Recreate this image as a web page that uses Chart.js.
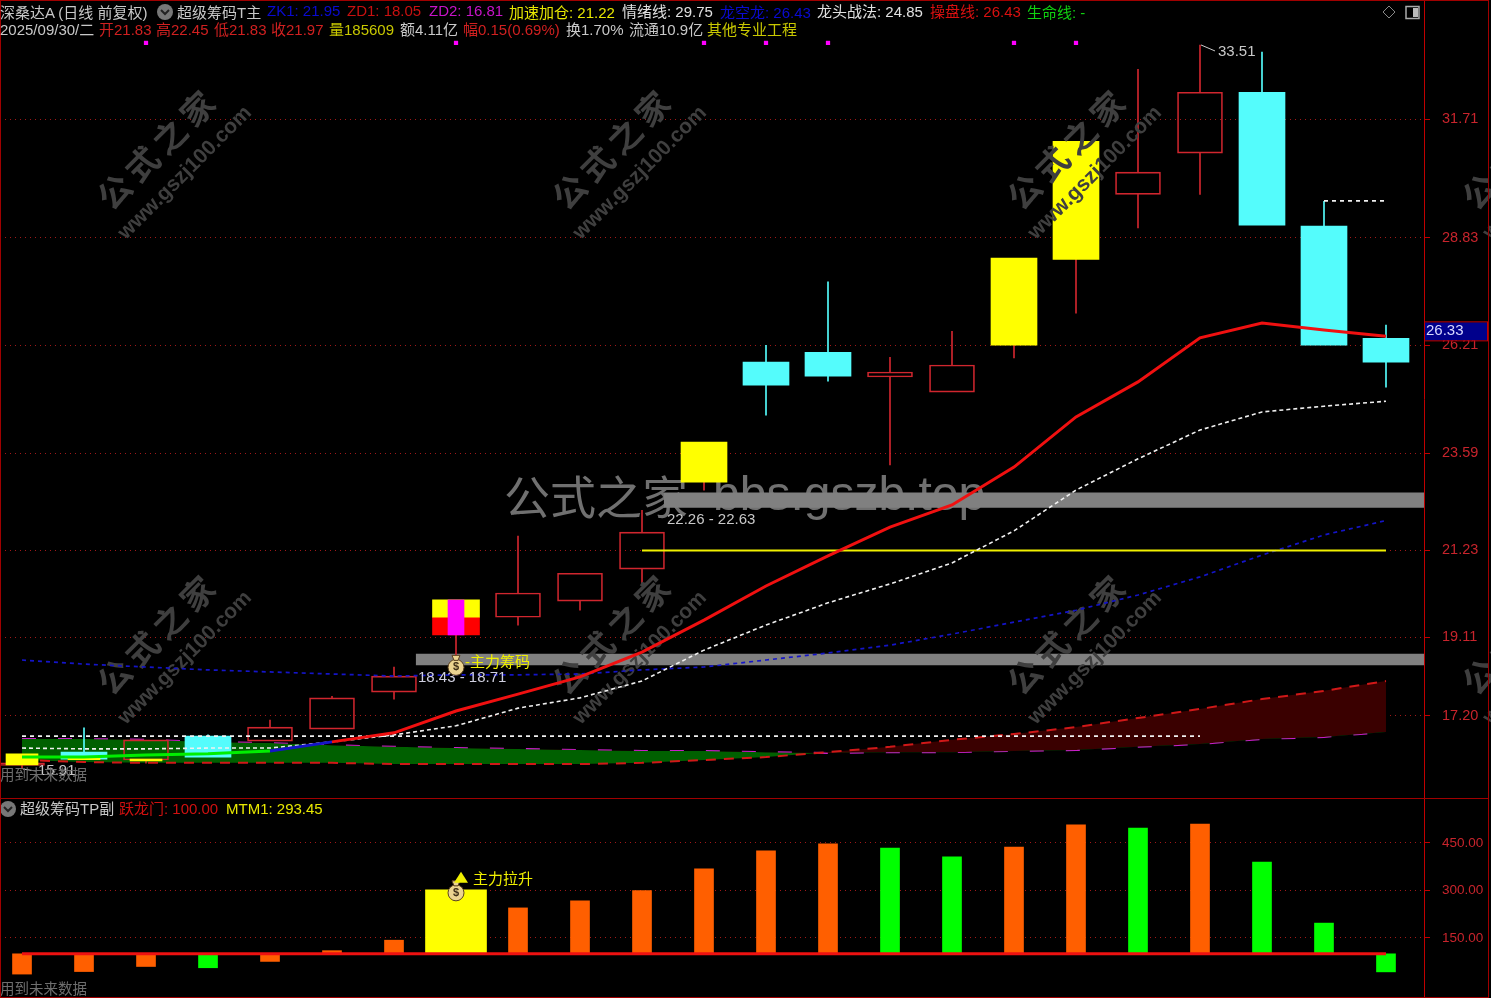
<!DOCTYPE html>
<html><head><meta charset="utf-8">
<script src="https://cdn.jsdelivr.net/npm/chart.js@4/dist/chart.umd.js"></script>
<style>
html,body{margin:0;padding:0;background:#000;overflow:hidden;width:1491px;height:998px}
canvas{position:absolute;left:0;display:block}
#frame{position:absolute;left:0;top:0;width:1487px;height:996px;border:1px solid #a00000;pointer-events:none}
#split{position:absolute;left:0;top:798px;width:1488px;height:1px;background:#a00000}
.t{position:absolute;white-space:nowrap;font:15px "Liberation Sans","Noto Sans CJK SC",sans-serif;line-height:16px}
</style></head><body>
<canvas id="main" width="1491" height="798" style="top:0"></canvas>
<canvas id="sub" width="1491" height="200" style="top:798px"></canvas>
<div id="frame"></div><div id="split"></div>
<div id="texts"></div>
<script>
// ---------- data ----------
const candleStyle=['hollow','cyan','hollow','cyan','hollow','hollow','hollow','block','hollow','hollow','hollow','yellow','cyan','cyan','hollow','hollow','yellow','yellow','hollow','hollow','cyan','cyan','cyan'];
const bodyTop =[16.06,16.32,16.62,16.71,16.93,17.64,18.17,20.02,20.19,20.67,21.67,23.86,25.80,26.04,25.56,25.73,28.33,31.17,30.42,32.36,32.36,29.11,26.38];
const bodyBot =[16.00,16.15,16.13,16.20,16.59,16.88,17.78,19.17,19.60,19.99,20.77,22.88,25.24,25.46,25.44,25.07,26.21,28.30,29.88,30.88,29.13,26.21,25.80];
const highs   =[16.06,16.91,16.62,16.74,17.10,17.68,18.39,20.02,21.57,20.67,22.20,23.86,26.21,27.75,25.92,26.55,28.33,31.17,32.92,33.51,33.34,29.71,26.70];
const lows    =[15.91,16.15,16.05,16.20,16.59,16.88,17.61,18.68,19.41,19.77,20.38,22.69,24.51,25.34,23.30,25.07,25.90,26.99,29.06,29.88,29.13,26.21,25.19];
const blockMid=19.60;
const stickIdx=[0,1,2];
const stickTop=[16.28,16.17,16.15];
const stickBot=[16.01,16.14,16.11];
const controlLine=[16.20,16.20,16.25,16.28,16.35,16.57,16.79,17.32,17.73,18.15,18.75,19.53,20.36,21.09,21.79,22.33,23.25,24.47,25.32,26.39,26.75,26.58,26.43];
const moodLine=[16.42,16.40,16.40,16.42,16.42,16.57,16.74,16.96,17.39,17.64,18.05,18.80,19.41,19.95,20.41,20.92,21.70,22.69,23.45,24.15,24.59,24.73,24.85];
const zk1Line=[18.56,18.46,18.39,18.32,18.27,18.22,18.17,18.20,18.20,18.22,18.32,18.39,18.56,18.73,18.92,19.19,19.48,19.77,20.14,20.58,21.11,21.60,21.95];
const zd2Line=[16.64,16.64,16.62,16.57,16.54,16.49,16.45,16.42,16.40,16.37,16.35,16.35,16.32,16.30,16.32,16.32,16.35,16.37,16.45,16.52,16.64,16.69,16.81];
const zd1Line=[16.13,16.08,16.06,16.06,16.06,16.06,16.03,16.03,16.03,16.03,16.06,16.13,16.20,16.32,16.45,16.62,16.76,16.93,17.15,17.37,17.61,17.81,18.05];
const signalIdx=[2,7,11,12,13,16,17];
const signalLevel=33.56;
const zoneLow=[18.43,22.26], zoneHigh=[18.71,22.63], zoneStart=[6.35,10.35];
const lvl1=16.71, lvl1Span=[0,19];
const lvl2=29.72, lvl2Span=[21,22];
const lvl3=21.22, lvl3Span=[10,22];
const lastPrice=26.33;
const priceTicks=[17.20,19.11,21.23,23.59,26.21,28.83,31.71];
const subTicks=[150,300,450];
const gate=100;
const mtm=[36,44,60,56,76,110,143,302,245,267,300,368,425,447,434,406,437,507,497,510,390,197,43];
const mtmStyle=['o','o','o','g','o','o','o','y','o','o','o','o','o','o','g','g','o','o','g','o','g','g','g'];

// ---------- axis ranges ----------
const xMin=-0.355, xMax=22.613;
const priceMax=34.603, priceMin=15.206, subMax=592, subMin=-39.5;
const RED='#d0262e', CYAN='#54fcfc', YEL='#ffff00';
const xs=bodyTop.map((_,i)=>i);
const ser=(arr)=>arr.map((y,x)=>({x,y}));

function line(label,data,color,width,dash,order,extra){
  return Object.assign({type:'line',label,data,borderColor:color,backgroundColor:color,borderWidth:width,borderDash:dash,pointRadius:0,tension:0,fill:false,order},extra||{});
}
function bars(label,data,thick,bg,border,order,extra){
  return Object.assign({type:'bar',label,data,barThickness:thick,grouped:false,borderSkipped:false,backgroundColor:bg,borderColor:border||bg,borderWidth:border?1:0,order},extra||{});
}
const wickColor=i=>candleStyle[i]==='cyan'?CYAN:RED;
const isSolid=i=>candleStyle[i]==='cyan'||candleStyle[i]==='yellow';
const bodyColor=i=>candleStyle[i]==='cyan'?CYAN:candleStyle[i]==='yellow'?YEL:'rgba(0,0,0,0)';

const zoneSets=[];
zoneLow.forEach((lo,k)=>{
  const span=[zoneStart[k],xMax];
  zoneSets.push(line('zoneLow'+k,span.map(x=>({x,y:lo})),'rgba(0,0,0,0)',0,[],92));
  zoneSets.push(line('zoneHigh'+k,span.map(x=>({x,y:zoneHigh[k]})),'rgba(0,0,0,0)',0,[],91,{fill:{target:'-1',above:'#808080',below:'#808080'}}));
});

const mainSets=[
  ...zoneSets,
  line('ZD2',ser(zd2Line),'#c81ec8',2,[14,22],82),
  line('ZD1',ser(zd1Line),'#d01818',2,[10,8],81,{fill:{target:'-1',above:'#3a0000',below:'#006000'}}),
  bars('wickUp',xs.filter(i=>highs[i]>bodyTop[i]).map(i=>({x:i,y:[bodyTop[i],highs[i]]})),1,c=>wickColor(c.raw.x),null,60),
  bars('wickDown',xs.filter(i=>lows[i]<bodyBot[i]).map(i=>({x:i,y:[lows[i],bodyBot[i]]})),1,c=>wickColor(c.raw.x),null,60),
  bars('bodySolid',xs.filter(isSolid).map(i=>({x:i,y:[bodyBot[i],bodyTop[i]]})),46,c=>bodyColor(c.raw.x),null,58),
  bars('bodyHollow',xs.filter(i=>candleStyle[i]==='hollow').map(i=>({x:i,y:[bodyBot[i],bodyTop[i]]})),45,'rgba(0,0,0,0)',RED,57),
  bars('blockTop',xs.filter(i=>candleStyle[i]==='block').map(i=>({x:i,y:[blockMid,bodyTop[i]]})),47,YEL,null,56),
  bars('blockBottom',xs.filter(i=>candleStyle[i]==='block').map(i=>({x:i,y:[bodyBot[i],blockMid]})),47,'#ff0000',null,56),
  bars('blockCore',xs.filter(i=>candleStyle[i]==='block').map(i=>({x:i,y:[bodyBot[i],bodyTop[i]]})),16,'#ff00ff',null,55),
  bars('stick',stickIdx.map((x,k)=>({x,y:[stickBot[k],stickTop[k]]})),32,YEL,null,54),
  line('ZK1',ser(zk1Line),'#1414c8',1.7,[4,4],30),
  line('lvl1',lvl1Span.map(x=>({x,y:lvl1})),'#f0f0f0',1.7,[4,4],29),
  line('lvl2',lvl2Span.map(x=>({x,y:lvl2})),'#f0f0f0',1.7,[4,4],29),
  line('lvl3',lvl3Span.map(x=>({x,y:lvl3})),'#f0f000',2,[],28),
  line('mood',ser(moodLine),'#f0f0f0',1.6,[4,3],27),
  line('control',ser(controlLine),'#f01010',3,[],26,{segment:{borderColor:c=>c.p0DataIndex<4?'#00ee00':c.p0DataIndex===4?'#1414c8':'#f01010'}}),
  {type:'scatter',label:'signal',data:signalIdx.map(x=>({x,y:signalLevel})),pointStyle:'rect',pointRadius:3,backgroundColor:'#ff00ff',borderWidth:0,showLine:false,order:20}
];

function drawBag(ctx,x,y){
  ctx.save();
  ctx.fillStyle='#ecd490';ctx.strokeStyle='#5a4020';ctx.lineWidth=1;
  ctx.beginPath();ctx.arc(x,y+2,8,0,Math.PI*2);ctx.fill();ctx.stroke();
  ctx.beginPath();ctx.moveTo(x-4,y-10);ctx.lineTo(x+4,y-10);ctx.lineTo(x+2,y-5);ctx.lineTo(x-2,y-5);ctx.closePath();ctx.fill();ctx.stroke();
  ctx.fillStyle='#403018';ctx.font='bold 11px "Liberation Sans"';ctx.textAlign='center';ctx.textBaseline='middle';ctx.fillText('$',x,y+2);
  ctx.restore();
}
function txt(ctx,s,x,y,color,font){
  ctx.save();ctx.fillStyle=color;ctx.font=font||'15px "Liberation Sans","Noto Sans CJK SC"';ctx.textBaseline='middle';ctx.textAlign='left';ctx.fillText(s,x,y);ctx.restore();
}
function chevron(ctx,x,y){
  ctx.save();ctx.fillStyle='#777';ctx.beginPath();ctx.arc(x,y,8,0,Math.PI*2);ctx.fill();
  ctx.strokeStyle='#222';ctx.lineWidth=2;ctx.beginPath();ctx.moveTo(x-4,y-2);ctx.lineTo(x,y+2);ctx.lineTo(x+4,y-2);ctx.stroke();ctx.restore();
}
const wmCols=[160,615,1070,1525], wmRows=[150,635];
const mainDeco={
  id:'mainDeco',
  beforeDatasetsDraw(c){
    const ctx=c.ctx;
    ctx.save();ctx.fillStyle='#707070';ctx.textBaseline='middle';ctx.textAlign='left';
    ctx.font='46px "Noto Sans CJK SC"';ctx.fillText('公式之家',504,497);
    ctx.font='48px "Liberation Sans"';ctx.fillText('bbs.gszb.top',713,497);
    ctx.restore();
  },
  afterDatasetDraw(c,a){
    if(a.meta.label!=='stick')return;
    const ctx=c.ctx;
    wmCols.forEach(cx=>wmRows.forEach(cy=>{
      ctx.save();ctx.fillStyle='#3f3f3f';ctx.textAlign='center';ctx.textBaseline='middle';
      ctx.translate(cx-2,cy-2);ctx.rotate(-Math.PI/4);
      ctx.letterSpacing='6px';ctx.font='bold 33px "Noto Sans CJK SC"';ctx.fillText('公式之家',0,0);
      ctx.restore();
      ctx.save();ctx.fillStyle='#3f3f3f';ctx.textAlign='center';ctx.textBaseline='middle';
      ctx.translate(cx+25,cy+23);ctx.rotate(-Math.PI/4);
      ctx.font='bold 21px "Liberation Sans"';ctx.fillText('www.gszj100.com',0,0);
      ctx.restore();
    }));
  },
  afterDraw(c){
    const ctx=c.ctx,X=c.scales.x,Y=c.scales.y;
    const grey='#c8c8c8';
    txt(ctx,'22.26 - 22.63',667,520,grey);
    txt(ctx,'18.43 - 18.71',418,678,'#d0d0e0');
    drawBag(ctx,X.getPixelForValue(7),Y.getPixelForValue(18.43));
    txt(ctx,'-主力筹码',465,663,'#f0f000');
    // high and low callouts
    const hx=X.getPixelForValue(19),hy=Y.getPixelForValue(33.51);
    ctx.strokeStyle='#ccc';ctx.lineWidth=1;ctx.beginPath();ctx.moveTo(hx+1,hy);ctx.lineTo(hx+15,hy+6);ctx.stroke();
    txt(ctx,'33.51',hx+18,hy+7,grey);
    const lx=X.getPixelForValue(0),ly=Y.getPixelForValue(15.91);
    ctx.beginPath();ctx.moveTo(lx+1,ly);ctx.lineTo(lx+14,ly+2);ctx.stroke();
    txt(ctx,'15.91',lx+16,ly+2,grey);
    txt(ctx,'用到未来数据',0,774,'#6e6e6e','14.5px "Noto Sans CJK SC"');
    // last price box
    const by=Y.getPixelForValue(lastPrice);
    ctx.fillStyle='#00008c';ctx.fillRect(1425,by-18,63,18);
    ctx.strokeStyle='#c00000';ctx.strokeRect(1424.5,by-18.5,63,19);
    txt(ctx,lastPrice.toFixed(2),1426,by-9,'#d8d8ff');
    // header controls
    chevron(ctx,165,12);
    ctx.strokeStyle='#888';ctx.lineWidth=1;
    ctx.beginPath();ctx.moveTo(1389,6);ctx.lineTo(1395,12);ctx.lineTo(1389,18);ctx.lineTo(1383,12);ctx.closePath();ctx.stroke();
    ctx.strokeStyle='#aaa';ctx.lineWidth=1.5;ctx.strokeRect(1406,6.5,13,12);ctx.fillStyle='#bbb';ctx.fillRect(1413,8,5,9);
  }
};
const subDeco={
  id:'subDeco',
  afterDraw(c){
    const ctx=c.ctx,X=c.scales.x,Y=c.scales.y;
    const bx=X.getPixelForValue(7),by=Y.getPixelForValue(mtm[7]);
    drawBag(ctx,bx,by+1);
    ctx.fillStyle='#f0f000';ctx.beginPath();ctx.moveTo(bx+5,by-18);ctx.lineTo(bx+12,by-7);ctx.lineTo(bx-2,by-7);ctx.closePath();ctx.fill();
    txt(ctx,'主力拉升',473,82,'#f0f000');
    txt(ctx,'用到未来数据',0,190,'#6e6e6e','14.5px "Noto Sans CJK SC"');
    chevron(ctx,8,11);
  }
};
function axisOpts(min,max,ticks,fontSize){
  return {
    x:{type:'linear',display:false,min:xMin,max:xMax,offset:false,grid:{display:false}},
    y:{type:'linear',position:'right',min,max,
      afterFit(s){s.width=1491-1424;s.paddingTop=0;s.paddingBottom=0;},
      afterBuildTicks(s){s.ticks=ticks.map(value=>({value}));},
      border:{color:'#c00000',width:1,dash:[1,4]},
      grid:{color:'#a01818',lineWidth:1,tickColor:'#c00000',tickBorderDash:[1,0],tickLength:6,drawTicks:true},
      ticks:{color:'#c8242c',padding:12,font:{size:fontSize,family:'"Liberation Sans"'},autoSkip:false,maxRotation:0,callback:v=>Number(v).toFixed(2)}
    }
  };
}
const common={responsive:false,animation:false,devicePixelRatio:1,layout:{padding:0,autoPadding:false},plugins:{legend:{display:false},tooltip:{enabled:false}}};
new Chart(document.getElementById('main'),{type:'line',data:{datasets:mainSets},options:Object.assign({},common,{scales:axisOpts(priceMin,priceMax,priceTicks,14.5)}),plugins:[mainDeco]});
const styleColor={o:'#ff5f00',g:'#00ff00',y:'#ffff00'};
const narrow=xs.filter(i=>mtmStyle[i]!=='y'), wide=xs.filter(i=>mtmStyle[i]==='y');
new Chart(document.getElementById('sub'),{type:'line',data:{datasets:[
  bars('MTM1',narrow.map(i=>({x:i,y:[gate,mtm[i]]})),19,c=>styleColor[mtmStyle[c.raw.x]],null,50),
  bars('MTM1 lift',wide.map(i=>({x:i,y:[gate,mtm[i]]})),61,c=>styleColor[mtmStyle[c.raw.x]],null,49),
  line('跃龙门',xs.map(x=>({x,y:gate})),'#ee1111',3,[],10)
]},options:Object.assign({},common,{scales:axisOpts(subMin,subMax,subTicks,13.5)}),plugins:[subDeco]});

// ---------- header text ----------
const headerTexts=[
 ['深桑达A (日线 前复权)',0,5,'#c8c8c8'],['超级筹码T主',177,5,'#c8c8c8'],
 ['ZK1: 21.95',267,3,'#0a0ad0'],['ZD1: 18.05',347,3,'#c81010'],['ZD2: 16.81',429,3,'#c814c8'],
 ['加速加仓: 21.22',509,5,'#e8e800'],['情绪线: 29.75',622,4,'#e0e0e0'],['龙空龙: 26.43',720,5,'#0a0ad0'],
 ['龙头战法: 24.85',817,4,'#e0e0e0'],['操盘线: 26.43',930,4,'#d81010'],['生命线: -',1027,5,'#10d010'],
 ['2025/09/30/二',0,22,'#c8c8c8'],['开21.83',99,22,'#d02020'],['高22.45',156,22,'#d02020'],['低21.83',214,22,'#d02020'],['收21.97',271,22,'#d02020'],
 ['量185609',329,22,'#c8c800'],['额4.11亿',400,22,'#c8c8c8'],['幅0.15(0.69%)',463,22,'#d02020'],['换1.70%',566,22,'#c8c8c8'],['流通10.9亿',629,22,'#c8c8c8'],['其他专业工程',707,22,'#c8c800'],
 ['超级筹码TP副',20,801,'#c8c8c8'],['跃龙门: 100.00',119,801,'#d01010'],['MTM1: 293.45',226,801,'#e8e800']
];
const host=document.getElementById('texts');
headerTexts.forEach(([s,x,y,c])=>{const d=document.createElement('div');d.className='t';d.textContent=s;d.style.left=x+'px';d.style.top=y+'px';d.style.color=c;host.appendChild(d);});
</script>
</body></html>
